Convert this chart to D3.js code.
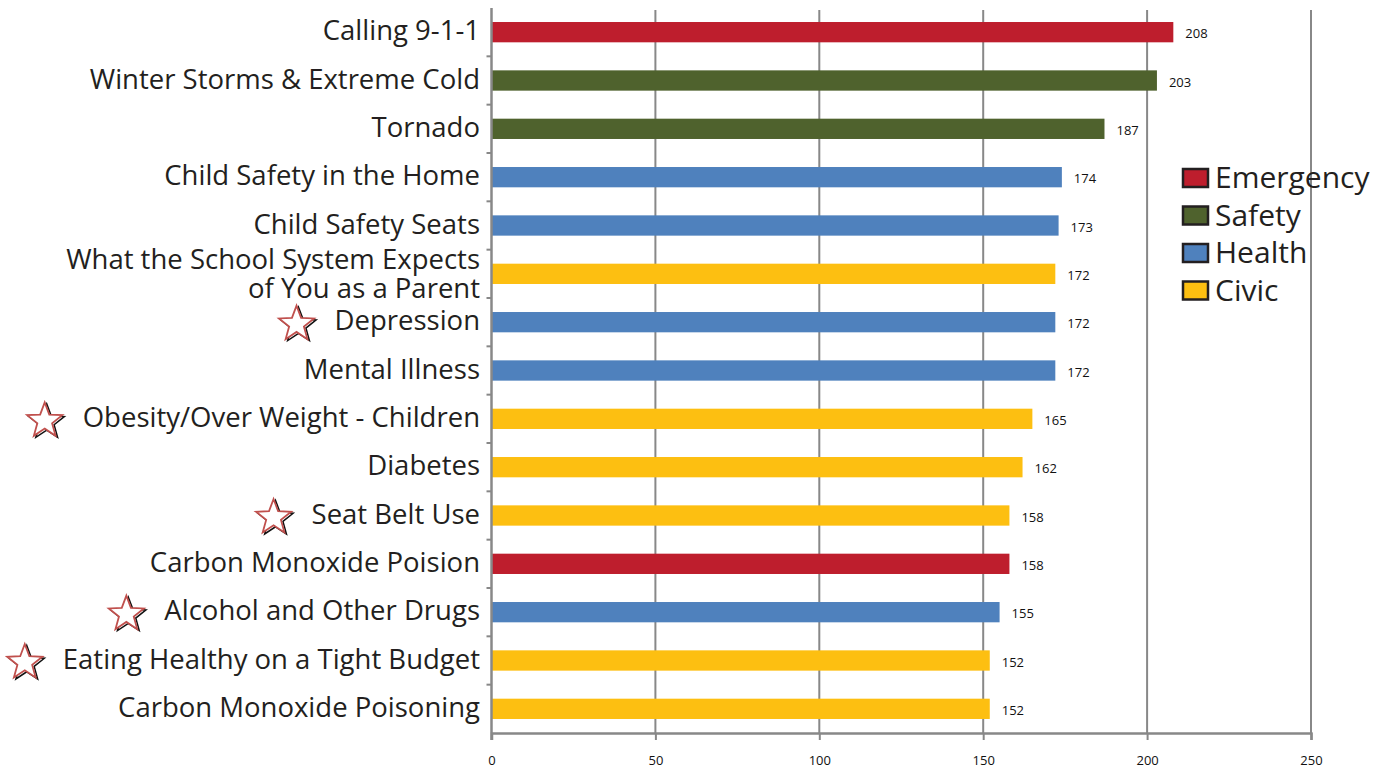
<!DOCTYPE html>
<html>
<head>
<meta charset="utf-8">
<script src="https://cdn.jsdelivr.net/npm/d3@7"></script>
<style>
  body { margin: 0; background: #fff; }
  svg { display: block; font-family: "Open Sans", sans-serif; }
</style>
</head>
<body>
<svg id="chart" width="1386" height="770"></svg>
<script>
// data
const topics = [
  "Calling 9-1-1",
  "Winter Storms & Extreme Cold",
  "Tornado",
  "Child Safety in the Home",
  "Child Safety Seats",
  "What the School System Expects|of You as a Parent",
  "Depression",
  "Mental Illness",
  "Obesity/Over Weight - Children",
  "Diabetes",
  "Seat Belt Use",
  "Carbon Monoxide Poision",
  "Alcohol and Other Drugs",
  "Eating Healthy on a Tight Budget",
  "Carbon Monoxide Poisoning"
];
const votes = [208, 203, 187, 174, 173, 172, 172, 172, 165, 162, 158, 158, 155, 152, 152];
const groups = ["Emergency", "Safety", "Safety", "Health", "Health", "Civic", "Health", "Health",
  "Civic", "Civic", "Civic", "Emergency", "Health", "Civic", "Civic"];
const starred = ["Depression", "Obesity/Over Weight - Children", "Seat Belt Use",
  "Alcohol and Other Drugs", "Eating Healthy on a Tight Budget"];
const categories = ["Emergency", "Safety", "Health", "Civic"];
const xTicks = [0, 50, 100, 150, 200, 250];

const rows = topics.map((t, i) => ({ topic: t, value: votes[i], group: groups[i] }));

const color = d3.scaleOrdinal()
  .domain(categories)
  .range(["#be1e2d", "#4f622d", "#4f81bd", "#fdbf11"]);

const svg = d3.select("#chart");
const margin = { top: 8, left: 491.5, bottom: 733, right: 1311 };

const x = d3.scaleLinear().domain([0, 250]).range([margin.left, margin.right]);
const y = d3.scaleBand().domain(topics).range([margin.top, margin.bottom]).paddingInner(0.58).paddingOuter(0.29);
const band = d3.scaleBand().domain(topics).range([margin.top, margin.bottom]);

// gridlines
svg.append("g")
  .selectAll("line")
  .data(xTicks.slice(1))
  .enter()
  .append("line")
  .attr("x1", d => x(d))
  .attr("x2", d => x(d))
  .attr("y1", margin.top + 2)
  .attr("y2", margin.bottom)
  .attr("stroke", "#888")
  .attr("stroke-width", 2);

// bars
svg.append("g")
  .selectAll("rect")
  .data(rows)
  .enter()
  .append("rect")
  .attr("x", x(0))
  .attr("y", d => y(d.topic))
  .attr("width", d => x(d.value) - x(0))
  .attr("height", y.bandwidth())
  .attr("fill", d => color(d.group));

// value labels
svg.append("g")
  .selectAll("text")
  .data(rows)
  .enter()
  .append("text")
  .attr("x", d => x(d.value) + 12)
  .attr("y", d => y(d.topic) + y.bandwidth() / 2 + 6)
  .attr("font-size", "13px")
  .attr("fill", "#111")
  .text(d => d.value);

// x axis
const xAxis = svg.append("g")
  .attr("transform", `translate(0,${margin.bottom})`)
  .call(d3.axisBottom(x).tickValues(xTicks).tickSize(7).tickPadding(16));
xAxis.select(".domain").attr("stroke", "#888").attr("stroke-width", 2.5);
xAxis.selectAll(".tick line").attr("stroke", "#888").attr("stroke-width", 2);
xAxis.selectAll("text").attr("font-size", "13px").attr("fill", "#111")
  .attr("font-family", '"Open Sans", sans-serif');

// y axis line and tick marks between categories
svg.append("line")
  .attr("x1", x(0)).attr("x2", x(0))
  .attr("y1", margin.top).attr("y2", margin.bottom + 7)
  .attr("stroke", "#888").attr("stroke-width", 2.5);
svg.append("g")
  .selectAll("line")
  .data(topics.slice(1))
  .enter()
  .append("line")
  .attr("x1", x(0) - 5)
  .attr("x2", x(0))
  .attr("y1", d => band(d))
  .attr("y2", d => band(d))
  .attr("stroke", "#888")
  .attr("stroke-width", 2);

// category labels
const labels = svg.append("g")
  .selectAll("text")
  .data(topics)
  .enter()
  .append("text")
  .attr("text-anchor", "end")
  .attr("font-size", "27.5px")
  .attr("fill", "#231f20")
  .attr("y", d => y(d) + y.bandwidth() / 2);

labels.each(function (d) {
  const lines = d.split("|");
  const t = d3.select(this);
  lines.forEach((l, i) => {
    t.append("tspan")
      .attr("x", 480)
      .attr("dy", i === 0 ? (lines.length === 1 ? 8 : -5) : 29)
      .text(l);
  });
});

// stars next to some labels
const starPath = (cx, cy, r) => {
  const pts = d3.range(10).map(k => {
    const a = -Math.PI / 2 + k * Math.PI / 5;
    const rr = k % 2 === 0 ? r : r * 0.42;
    return [cx + rr * Math.cos(a), cy + rr * Math.sin(a)];
  });
  return "M" + pts.join("L") + "Z";
};

labels.filter(d => starred.includes(d)).each(function (d) {
  const bb = this.getBBox();
  const cx = bb.x - 38;
  const cy = y(d) + y.bandwidth() / 2 + 2;
  svg.append("path")
    .attr("d", starPath(cx + 2, cy + 1.5, 18.5))
    .attr("fill", "none")
    .attr("stroke", "#111")
    .attr("stroke-width", 1.5);
  svg.append("path")
    .attr("d", starPath(cx, cy, 18.5))
    .attr("fill", "#fff")
    .attr("stroke", "#c0504d")
    .attr("stroke-width", 1.8);
});

// legend
const legend = svg.append("g")
  .selectAll("g")
  .data(categories)
  .enter()
  .append("g")
  .attr("transform", (d, i) => `translate(1183,${178 + i * 37.5})`);

legend.append("rect")
  .attr("x", 0)
  .attr("y", -9)
  .attr("width", 25)
  .attr("height", 18)
  .attr("fill", d => color(d))
  .attr("stroke", "#231f20")
  .attr("stroke-width", 2.5);

legend.append("text")
  .attr("x", 32)
  .attr("y", 10)
  .attr("font-size", "30px")
  .attr("fill", "#231f20")
  .text(d => d);
</script>
</body>
</html>
